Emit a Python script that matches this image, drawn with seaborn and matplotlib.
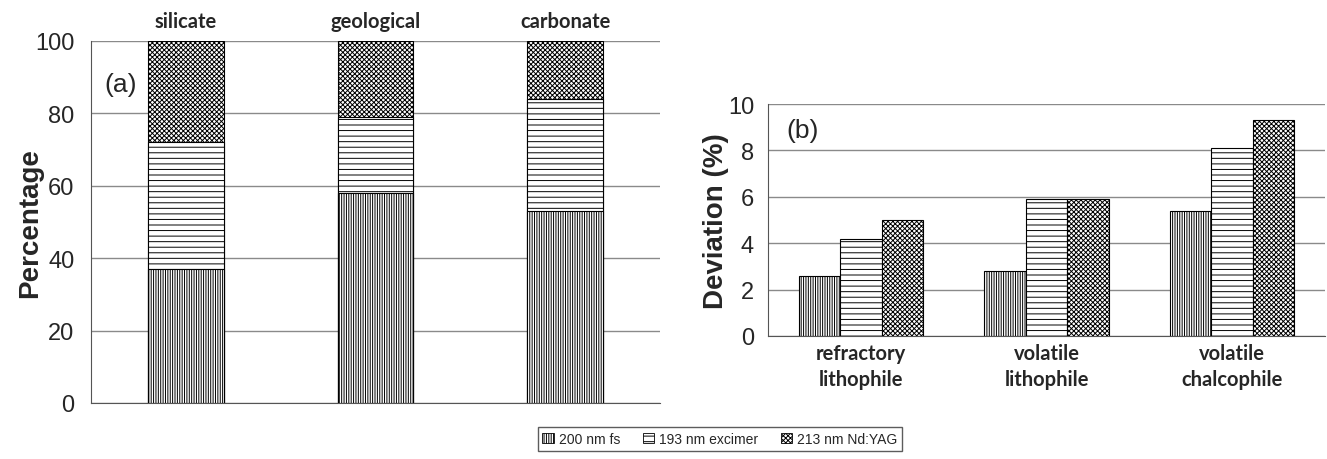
import matplotlib
matplotlib.use("Agg")
import matplotlib.pyplot as plt
from matplotlib.patches import Patch
import seaborn as sns
import pandas as pd
import numpy as np

# ---- data ----
materials = ["silicate", "geological", "carbonate"]
fs_pct = [37, 58, 53]
excimer_pct = [35, 21, 31]
yag_pct = [28, 21, 16]

groups = ["refractory\nlithophile", "volatile\nlithophile", "volatile\nchalcophile"]
lasers = ["200 nm fs", "193 nm excimer", "213 nm Nd:YAG"]
dev_fs = [2.6, 2.8, 5.4]
dev_excimer = [4.2, 5.9, 8.1]
dev_yag = [5.0, 5.9, 9.3]

hatches = ["|||||||", "---", "xxxxxxx"]

sns.set_style("white")
plt.rcParams["font.family"] = ["Liberation Sans", "DejaVu Sans"]
plt.rcParams["hatch.linewidth"] = 0.7

W, H = 1327, 460
fig = plt.figure(figsize=(W / 100, H / 100), dpi=100)
ax1 = fig.add_axes([91 / W, 1 - 404 / H, (660 - 91) / W, (404 - 42) / H])
ax2 = fig.add_axes([768 / W, 1 - 337 / H, (1325 - 768) / W, (337 - 105) / H])

grid_c = "#8a8a8a"
cat_family = ["Lato", "DejaVu Sans"]

# ---- panel (a): stacked bars ----
cum_fs = np.array(fs_pct)
cum_ex = cum_fs + np.array(excimer_pct)
cum_yag = cum_ex + np.array(yag_pct)
for heights, h in [(cum_yag, hatches[2]), (cum_ex, hatches[1]), (cum_fs, hatches[0])]:
    sns.barplot(x=materials, y=heights, color="white", saturation=1,
                edgecolor="black", linewidth=0.8, hatch=h, width=0.4,
                errorbar=None, ax=ax1)

ax1.set_ylim(0, 100)
ax1.set_xlim(-0.5, 2.5)
ax1.set_yticks([0, 20, 40, 60, 80, 100])
ax1.yaxis.grid(True, color=grid_c, linewidth=1)
ax1.set_axisbelow(True)
ax1.xaxis.tick_top()
ax1.tick_params(axis="x", length=0, pad=7)
ax1.tick_params(axis="y", length=10, color=grid_c, labelsize=17, pad=2)
for lab in ax1.get_xticklabels():
    lab.set_fontsize(14.5)
    lab.set_fontfamily(cat_family)
    lab.set_fontweight("bold")
ax1.set_xlabel("")
ax1.set_ylabel("Percentage", fontsize=20, fontweight="bold", labelpad=-6)
for s in ["top", "right"]:
    ax1.spines[s].set_visible(False)
ax1.spines["left"].set_color("#555555")
ax1.spines["bottom"].set_color("#555555")
ax1.text(-0.43, 88, "(a)", fontsize=19, va="center", ha="left")

# ---- panel (b): grouped bars ----
df = pd.DataFrame({
    "group": groups * 3,
    "laser": np.repeat(lasers, 3),
    "dev": dev_fs + dev_excimer + dev_yag,
})
sns.barplot(data=df, x="group", y="dev", hue="laser", hue_order=lasers,
            palette=["white"] * 3, saturation=1, edgecolor="black",
            linewidth=0.8, width=0.67, errorbar=None, legend=False, ax=ax2)
for cont, h in zip(ax2.containers, hatches):
    for bar in cont:
        bar.set_hatch(h)

ax2.set_ylim(0, 10)
ax2.set_xlim(-0.5, 2.5)
ax2.set_yticks([0, 2, 4, 6, 8, 10])
ax2.yaxis.grid(True, color=grid_c, linewidth=1)
ax2.set_axisbelow(True)
ax2.tick_params(axis="x", length=0, pad=5)
ax2.tick_params(axis="y", length=8, color=grid_c, labelsize=17, pad=2)
for lab in ax2.get_xticklabels():
    lab.set_fontsize(14.5)
    lab.set_fontfamily(cat_family)
    lab.set_fontweight("bold")
    lab.set_linespacing(1.4)
ax2.set_xlabel("")
ax2.set_ylabel("Deviation (%)", fontsize=20, fontweight="bold", labelpad=-1)
for s in ["top", "right"]:
    ax2.spines[s].set_visible(False)
ax2.spines["left"].set_color("#555555")
ax2.spines["bottom"].set_color("#555555")
ax2.text(-0.40, 8.9, "(b)", fontsize=19, va="center", ha="left")

# ---- legend ----
handles = [Patch(facecolor="white", edgecolor="black", hatch=h, linewidth=0.6)
           for h in hatches]
fig.legend(handles, lasers, loc="center", bbox_to_anchor=(720 / W, 1 - 440 / H),
           ncol=3, fontsize=10, frameon=True, fancybox=False, edgecolor="#333333",
           handlelength=0.8, handleheight=0.8, handletextpad=0.4,
           columnspacing=1.6, borderpad=0.35, borderaxespad=0)

fig.savefig("out.png", dpi=100)
